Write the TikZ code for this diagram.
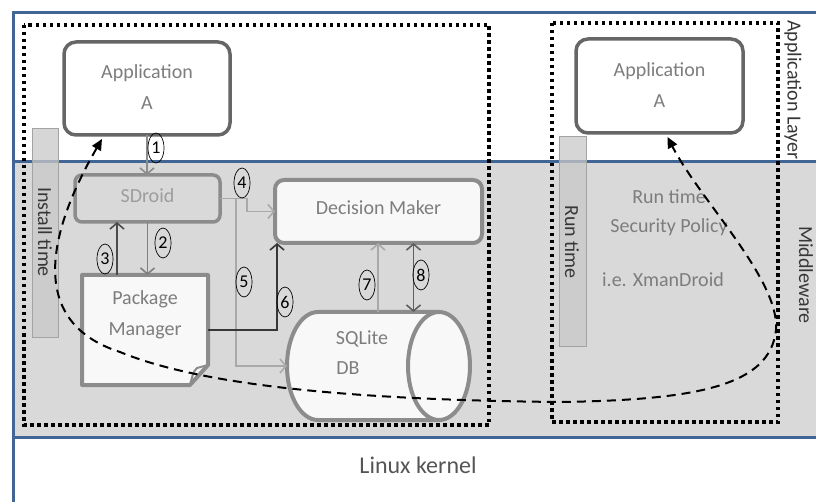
\documentclass[tikz,border=0pt]{standalone}
\usepackage{fontspec}
\setmainfont{Carlito}
\usetikzlibrary{arrows.meta,shapes.geometric,calc}

\definecolor{layerblue}{RGB}{65,102,150}
\definecolor{midgray}{RGB}{217,217,217}
\definecolor{boxfill}{RGB}{248,248,248}
\definecolor{edgegray}{RGB}{140,140,140}
\definecolor{appedge}{RGB}{102,102,102}
\definecolor{txtgray}{RGB}{125,125,125}
\definecolor{bargray}{RGB}{200,200,200}
\definecolor{darktxt}{RGB}{55,55,55}

\tikzset{
  lbl/.style={font=\fontsize{20}{31}\selectfont, text=txtgray, align=center, inner sep=0pt},
  sidelbl/.style={font=\fontsize{20}{24}\selectfont, text=darktxt, inner sep=0pt},
  appbox/.style={draw=appedge, line width=3.5pt, fill=white, rounded corners=12pt,
    minimum width=166pt, minimum height=93pt, outer sep=0pt},
  compbox/.style={draw=edgegray, line width=4pt, rounded corners=9pt, outer sep=0pt},
  num/.style={ellipse, draw=black, line width=0.7pt, minimum width=16pt, minimum height=30pt,
    inner sep=0pt, font=\fontsize{18}{18}\selectfont},
  flow/.style={line width=1.6pt, -{Straight Barb[length=6pt,width=14pt]}},
  dotframe/.style={line width=3.5pt, dash pattern=on 3.5pt off 3.5pt},
  timebar/.style={fill=bargray, fill opacity=0.75, draw=edgegray!80, line width=0.8pt},
  flowcurve/.style={line width=2pt, dash pattern=on 9pt off 6pt,
    {Triangle[length=11pt,width=10pt]}-{Triangle[length=11pt,width=10pt]}}
}

\begin{document}
\begin{tikzpicture}[x=1pt,y=-1pt]
\useasboundingbox (0,0) rectangle (816,502);

% layers
\fill[midgray] (13,162) rectangle (816,437);
\draw[layerblue, line width=3pt] (13,502) -- (13,13) -- (816,13);
\draw[layerblue, line width=3pt] (13,162) -- (816,162);
\draw[layerblue, line width=3pt] (13,437) -- (816,437);

\node[sidelbl, rotate=-90] (applayer) at (793,90) {Application Layer};
\node[sidelbl, rotate=-90] (midlayer) at (806,275) {Middleware};
\node[sidelbl, font=\fontsize{24}{28}\selectfont, text=darktxt!85] (kernel) at (418,465) {Linux kernel};

% install-time and run-time bars
\draw[timebar] (32,128) rectangle (58,337);
\node[sidelbl, rotate=-90] (installtxt) at (45,232) {Install time};
\draw[timebar] (559,136) rectangle (586,346);
\node[sidelbl, rotate=-90] (runtxt) at (572,242) {Run time};

% grouping frames
\draw[dotframe] (24,25) rectangle (489,425);
\draw[dotframe] (552,23) rectangle (778,422);

% applications
\node[appbox] (appL) at (147,88.5) {};
\node[lbl] at (147,87.5) {Application\\A};
\node[appbox, minimum width=167pt, minimum height=94pt] (appR) at (659.5,86) {};
\node[lbl] at (659.5,85.5) {Application\\A};

% SDroid
\node[compbox, fill=midgray, line width=3.5pt, rounded corners=7pt,
  minimum width=145pt, minimum height=47pt] (sdroid) at (147.5,198.5) {};
\node[lbl, text=edgegray!85] at (147.5,196) {SDroid};

% Decision maker
\node[compbox, fill=boxfill, minimum width=207pt, minimum height=63pt] (dm) at (378.5,211.5) {};
\node[lbl] at (378.5,208) {Decision Maker};

% Package manager (folded page)
\node[minimum width=126pt, minimum height=110pt, outer sep=0pt, inner sep=0pt] (pm) at (145,330) {};
\draw[draw=edgegray, fill=boxfill, line width=4pt, line join=round]
  (pm.north west) -- (pm.north east) -- ($(pm.south east)+(0,-20)$)
  -- ($(pm.south east)+(-18,0)$) -- (pm.south west) -- cycle;
\draw[draw=edgegray, line width=2pt, line join=round]
  ($(pm.south east)+(0,-20)$) -- ($(pm.south east)+(-11,-17)$)
  .. controls ($(pm.south east)+(-15,-14)$) and ($(pm.south east)+(-16,-7)$) .. ($(pm.south east)+(-18,0)$);
\node[lbl] at (145,315) {Package\\Manager};

% SQLite database cylinder
\node[minimum width=182pt, minimum height=108pt, outer sep=0pt, inner sep=0pt] (db) at (378,366) {};
\fill[boxfill] (439,312) -- (318,312) arc[start angle=270, end angle=90, x radius=31, y radius=54]
  -- (439,420) arc[start angle=90, end angle=-90, x radius=31, y radius=54] -- cycle;
\draw[edgegray, line width=4pt] (439,312) -- (318,312)
  arc[start angle=270, end angle=90, x radius=31, y radius=54] -- (439,420);
\draw[edgegray, line width=4pt] (439,366) ellipse [x radius=31, y radius=54];
\node[lbl] at (362,339) {SQLite};
\node[lbl] at (348,368) {DB};

% run-time policy text
\node[lbl] at (669,197) {Run time};
\node[lbl] at (669,227) {Security Policy};
\node[lbl] at (663,280) {i.e. XmanDroid};

% connectors
\draw[flow, draw=edgegray] (appL.south) -- (appL.south |- sdroid.north);
\draw[flow, draw=gray] (sdroid.south) -- (sdroid.south |- pm.north);
\draw[flow, draw=darktxt!90] ([xshift=-28pt]pm.north) -- ([xshift=-28pt]pm.north |- sdroid.south);
\draw[flow, draw=edgegray!75] (sdroid.east) -- ++(27,0) |- (dm.west);
\draw[flow, draw=edgegray!75] ([xshift=16pt]sdroid.east) |- (db.west);
\draw[flow, draw=darktxt] (pm.east) -| ([xshift=-101.5pt]dm.south);
\draw[flow, draw=edgegray!75] (db.north) -- (db.north |- dm.south);
\draw[line width=1.6pt, draw=darktxt!80, {Straight Barb[length=6pt,width=14pt]}-{Straight Barb[length=6pt,width=14pt]}]
  ([xshift=35pt]dm.south) -- ([xshift=35pt]dm.south |- db.north);

% step numbers
\node[num] (n1) at (156,148) {1};
\node[num] (n2) at (163,243) {2};
\node[num] (n3) at (105,259) {3};
\node[num] (n4) at (242,183) {4};
\node[num] (n5) at (244,282) {5};
\node[num] (n6) at (285,302) {6};
\node[num] (n7) at (367,285) {7};
\node[num] (n8) at (421,275) {8};

% information flow from install time to run time
\draw[flowcurve] ($(appL.south west)+(38,4)$)
  .. controls (55,220) and (20,320) .. (120,352)
  .. controls (200,385) and (350,400) .. (560,402)
  .. controls (700,400) and (770,385) .. (776,330)
  .. controls (780,280) and (700,200) .. ($(appR.south)+(8,4)$);
\end{tikzpicture}
\end{document}
